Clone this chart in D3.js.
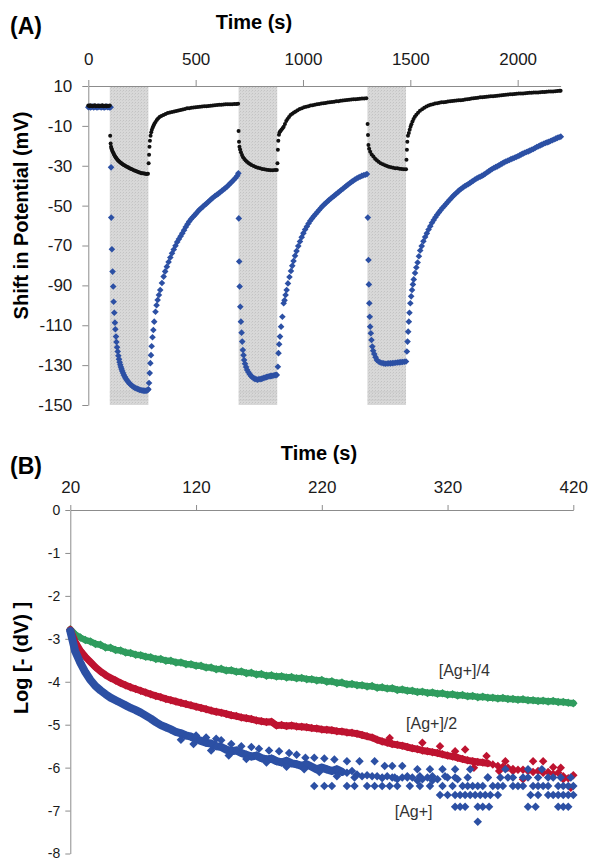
<!DOCTYPE html>
<html>
<head>
<meta charset="utf-8">
<script src="https://cdn.jsdelivr.net/npm/d3@7"></script>
<style>
  body { margin: 0; background: #fff; }
  svg { display: block; font-family: "Liberation Sans", Arial, Helvetica, sans-serif; }
</style>
</head>
<body>
<div id="chart"></div>
<script>
// ---------- panel A data: [time (s), shift in potential (mV)] ----------
const timeTicksA = [0, 500, 1000, 1500, 2000];
const potTicksA = [10, -10, -30, -50, -70, -90, -110, -130, -150];
const shadedA = [[100, 280], [700, 880], [1300, 1480]];

const blackA = [
  [0,0.2],[5,-0.1],[10,0.3],[15,0],[20,-0.2],[25,0.1],[30,0.3],[35,-0.1],[40,0],[45,0.2],[50,-0.2],[55,0.1],[60,0],[65,0.3],[70,-0.1],[75,0],[80,0.2],[85,-0.2],[90,0.1],[95,0],[100,0.2],
  [102,-15],[104,-18.8],[106,-20.5],[108,-21.3],[110,-22],[113,-22.8],[116,-23.5],[119,-24.1],[122,-24.7],[125,-25.3],[128,-25.8],[131,-26.3],[134,-26.7],[137,-27.1],[140,-27.5],[144,-27.9],[148,-28.2],[152,-28.6],[156,-28.9],[160,-29.2],[165,-29.6],[170,-29.9],[175,-30.2],[180,-30.5],[185,-30.8],[190,-31.1],[195,-31.4],[200,-31.6],[206,-31.9],[212,-32.2],[218,-32.5],[224,-32.8],[230,-33],[236,-33.3],[242,-33.5],[248,-33.7],[254,-33.8],[260,-33.9],[266,-34],[272,-34.1],[278,-34],
  [281,-28.8],[283,-24.5],[285,-20.5],[287,-17.5],[290,-15],[293,-13.2],[296,-12],[300,-10.8],[304,-9.8],[308,-8.9],[313,-8],[319,-7],[325,-6.3],[332,-5.6],[340,-5],[350,-4.5],[360,-4],[370,-3.6],[380,-3.3],[390,-3],[400,-2.8],[410,-2.5],[420,-2.3],[430,-2],[440,-1.8],[450,-1.5],[460,-1.2],[470,-1.1],[480,-0.9],[490,-0.8],[500,-0.6],[510,-0.5],[520,-0.4],[530,-0.3],[540,-0.2],[550,-0.1],[560,0],[570,0.1],[580,0.2],[590,0.4],[600,0.5],[610,0.6],[620,0.6],[630,0.7],[640,0.8],[650,0.8],[660,0.9],[670,0.9],[680,1],[690,1],[698,1.1],
  [700,-12.6],[702,-17.9],[704,-20.5],[707,-21.8],[711,-23.2],[716,-24.6],[721,-25.7],[727,-26.6],[733,-27.4],[739,-28],[746,-28.6],[753,-29.1],[760,-29.6],[770,-30.1],[780,-30.6],[790,-31],[800,-31.3],[810,-31.6],[820,-31.8],[830,-32],[840,-32.1],[850,-32.2],[860,-32.2],[870,-32.1],[878,-32.1],
  [881,-28.8],[883,-22],[885,-17.5],[888,-14.5],[891,-13.2],[895,-12.6],[900,-12],[905,-11.2],[910,-10.4],[916,-9],[922,-7.6],[928,-6.5],[935,-5.5],[942,-4.6],[950,-3.9],[958,-3.3],[966,-2.8],[975,-2.2],[985,-1.5],[995,-1.1],[1005,-0.7],[1015,-0.4],[1025,-0.1],[1035,0.2],[1045,0.4],[1055,0.6],[1065,0.8],[1075,1],[1085,1.2],[1095,1.4],[1105,1.5],[1115,1.7],[1125,1.8],[1135,2],[1145,2.1],[1155,2.3],[1165,2.4],[1175,2.6],[1185,2.7],[1195,2.9],[1205,3],[1215,3.1],[1225,3.2],[1235,3.3],[1245,3.4],[1255,3.5],[1265,3.6],[1275,3.7],[1285,3.7],[1295,3.8],
  [1301,-9],[1303,-14.6],[1305,-19.6],[1308,-21.5],[1313,-23],[1320,-24.4],[1328,-25.4],[1336,-26.5],[1344,-27.3],[1352,-28],[1362,-28.7],[1372,-29.3],[1382,-29.8],[1391,-30.1],[1400,-30.5],[1410,-30.8],[1420,-31],[1430,-31.2],[1440,-31.3],[1450,-31.5],[1460,-31.6],[1470,-31.7],[1480,-31.8],
  [1482,-27],[1484,-22],[1486,-18],[1489,-15],[1493,-13.6],[1497,-12],[1501,-10.5],[1505,-9.2],[1510,-7.8],[1515,-6.6],[1521,-5.4],[1528,-4.4],[1536,-3.4],[1545,-2.4],[1555,-1.6],[1565,-0.9],[1575,-0.3],[1585,0.2],[1595,0.6],[1605,0.9],[1615,1.2],[1625,1.4],[1635,1.6],[1645,1.8],[1655,1.9],[1665,2],[1675,2.2],[1685,2.3],[1695,2.5],[1705,2.6],[1715,2.7],[1725,2.8],[1735,2.9],[1745,3],[1755,3.2],[1765,3.4],[1775,3.5],[1785,3.7],[1795,3.8],[1805,4],[1815,4.1],[1825,4.3],[1835,4.4],[1845,4.5],[1855,4.6],[1865,4.7],[1875,4.8],[1885,4.9],[1895,5],[1905,5.1],[1915,5.2],[1925,5.3],[1935,5.5],[1945,5.6],[1955,5.7],[1965,5.8],[1975,5.9],[1985,6],[1995,6.1],[2005,6.2],[2015,6.2],[2025,6.3],[2035,6.4],[2045,6.5],[2055,6.6],[2065,6.6],[2075,6.7],[2085,6.8],[2095,6.8],[2105,6.9],[2115,7],[2125,7],[2135,7.1],[2145,7.2],[2155,7.3],[2165,7.3],[2175,7.4],[2185,7.5],[2195,7.6],[2200,7.6]
];

const blueA = [
  [0,-0.6],[5,-0.4],[10,-0.8],[15,-0.5],[20,-0.3],[25,-0.7],[30,-0.5],[35,-0.4],[40,-0.8],[45,-0.6],[50,-0.3],[55,-0.5],[60,-0.7],[65,-0.4],[70,-0.6],[75,-0.8],[80,-0.5],[85,-0.3],[90,-0.6],[95,-0.5],[100,-0.7],[104,-0.6],
  [106,-30.8],[107,-56],[110,-71.9],[113,-83.1],[116,-90.6],[118,-98.2],[121,-103.7],[124,-108.7],[126,-112],[129,-115.7],[131,-118.4],[134,-121],[137,-123.2],[140,-125.3],[143,-127],[146,-128.5],[149,-129.8],[152,-131],[155,-132],[158,-133],[162,-134],[166,-135],[170,-135.8],[174,-136.6],[178,-137.3],[183,-138],[188,-138.7],[193,-139.3],[198,-139.8],[204,-140.4],[210,-140.9],[216,-141.3],[222,-141.6],[228,-141.9],[234,-142.1],[240,-142.4],[246,-142.6],[252,-142.7],[258,-142.8],[264,-142.9],[270,-142.8],[276,-142.6],[280,-142.1],
  [283,-139],[286,-134],[289,-129],[292,-125],[295,-120.5],[299,-116],[303,-112.4],[307,-108.2],[313,-103.2],[318,-100],[323,-97.3],[329,-94.8],[335,-92.3],[343,-88.8],[351,-85.6],[358,-83],[366,-80.6],[374,-78.3],[382,-76],[390,-73.9],[398,-72],[406,-70.1],[414,-68.3],[422,-66.8],[430,-65.3],[438,-63.9],[446,-62.3],[454,-60.7],[462,-59.3],[470,-58],[478,-56.8],[486,-55.8],[494,-54.9],[502,-54],[510,-53],[518,-52],[526,-51.3],[534,-50.5],[542,-49.7],[550,-49],[558,-48.2],[566,-47.4],[574,-46.6],[582,-45.9],[590,-45.2],[598,-44.6],[606,-44],[614,-43.3],[622,-42.6],[630,-41.9],[638,-41.2],[646,-40.5],[654,-39.6],[662,-38.8],[670,-37.9],[678,-37],[686,-36.1],[694,-35],[699,-33.8],
  [701,-56.4],[703,-78],[705,-90.6],[708,-100.7],[711,-108.2],[714,-113.7],[717,-118.2],[720,-122.4],[723,-125],[726,-127.4],[730,-129.3],[735,-131],[740,-132.4],[746,-133.6],[752,-134.6],[758,-135.4],[764,-136],[770,-136.5],[776,-136.9],[782,-137.1],[788,-137.3],[794,-137.1],[800,-137],[806,-136.9],[812,-136.7],[818,-136.4],[824,-136.2],[830,-136],[836,-135.8],[842,-135.6],[848,-135.5],[854,-135.4],[860,-135.3],[866,-135.1],[872,-135],[878,-134.9],
  [883,-130.8],[886,-124],[889,-119.5],[893,-115.7],[898,-110.7],[904,-105.7],[910,-99],[914,-97.5],[919,-94.8],[924,-92.3],[930,-89],[937,-85.8],[944,-82.8],[950,-80.2],[956,-77.8],[963,-75.2],[970,-72.8],[978,-70.3],[986,-68],[994,-65.8],[1002,-63.8],[1010,-62],[1018,-60.5],[1026,-59],[1034,-57.6],[1042,-56.4],[1050,-55.3],[1058,-54.3],[1066,-53.3],[1074,-52.3],[1082,-51.3],[1090,-50.3],[1098,-49.5],[1106,-48.7],[1114,-47.9],[1122,-47.1],[1130,-46.4],[1138,-45.7],[1146,-45],[1154,-44.3],[1162,-43.6],[1170,-42.9],[1178,-42.2],[1186,-41.5],[1194,-40.8],[1202,-40.1],[1210,-39.4],[1218,-38.8],[1226,-38.1],[1234,-37.5],[1242,-36.9],[1250,-36.4],[1258,-35.9],[1266,-35.5],[1274,-35.1],[1282,-34.8],[1290,-34.5],[1298,-34.2],
  [1302,-56],[1305,-77.3],[1307,-89.5],[1309,-99],[1311,-105.7],[1313,-110.7],[1316,-114],[1319,-117.4],[1323,-120.7],[1327,-122.8],[1332,-124.4],[1338,-126],[1344,-127.4],[1352,-128.2],[1360,-128.7],[1368,-128.9],[1376,-129.1],[1384,-129.3],[1392,-129.2],[1400,-129.1],[1408,-129.1],[1416,-129],[1424,-128.9],[1432,-128.8],[1440,-128.7],[1448,-128.6],[1456,-128.5],[1464,-128.4],[1472,-128.3],[1480,-128.2],
  [1484,-123.2],[1487,-118.2],[1490,-113.2],[1493,-108.2],[1496,-103.7],[1500,-99],[1504,-95.5],[1508,-92.3],[1512,-89.5],[1516,-87],[1522,-83.8],[1528,-81],[1534,-78.5],[1540,-75.4],[1546,-72.5],[1553,-70.3],[1561,-67.9],[1569,-65.7],[1577,-63.9],[1585,-62],[1593,-60.3],[1601,-58.6],[1609,-57.2],[1617,-55.8],[1625,-54.6],[1633,-53.4],[1641,-52.3],[1649,-51.2],[1657,-50.3],[1665,-49.3],[1673,-48.3],[1681,-47.3],[1689,-46.4],[1697,-45.4],[1705,-44.6],[1713,-43.8],[1721,-43],[1729,-42.2],[1737,-41.5],[1745,-40.9],[1753,-40.3],[1761,-39.8],[1769,-39.3],[1777,-38.7],[1785,-38.1],[1793,-37.5],[1801,-36.9],[1809,-36.4],[1817,-35.9],[1825,-35.5],[1833,-35.1],[1841,-34.6],[1849,-34],[1857,-33.4],[1865,-32.8],[1873,-32.2],[1881,-31.6],[1889,-31.1],[1897,-30.7],[1905,-30.3],[1913,-29.8],[1921,-29.3],[1929,-28.8],[1937,-28.3],[1945,-27.9],[1953,-27.5],[1961,-27.1],[1969,-26.7],[1977,-26.4],[1985,-26],[1993,-25.6],[2001,-25.2],[2009,-24.8],[2017,-24.3],[2025,-23.9],[2033,-23.5],[2041,-23.1],[2049,-22.8],[2057,-22.4],[2065,-22],[2073,-21.6],[2081,-21.1],[2089,-20.6],[2097,-20.2],[2105,-19.8],[2113,-19.4],[2121,-19],[2129,-18.6],[2137,-18.3],[2145,-18],[2153,-17.6],[2161,-17.2],[2169,-16.8],[2177,-16.4],[2185,-16],[2193,-15.7],[2201,-15.4]
];

// ---------- panel B data: log[-(dV)] read every 4 s from t = 20 s ----------
const timeTicksB = [20, 120, 220, 320, 420];
const logTicksB = [0, -1, -2, -3, -4, -5, -6, -7, -8];
const timeB = d3.range(20, 421, 4);

const greenB = [
  -2.78,-2.9,-2.97,-3.03,-3.06,-3.12,-3.14,-3.2,-3.21,-3.26,-3.27,-3.32,-3.33,-3.37,-3.38,-3.42,-3.43,-3.47,-3.47,-3.51,
  -3.51,-3.55,-3.55,-3.59,-3.59,-3.63,-3.63,-3.67,-3.67,-3.71,-3.7,-3.74,-3.73,-3.77,-3.76,-3.8,-3.79,-3.83,-3.82,-3.86,
  -3.85,-3.88,-3.87,-3.9,-3.89,-3.92,-3.91,-3.94,-3.94,-3.97,-3.96,-4,-3.99,-4.03,-4.02,-4.06,-4.05,-4.08,-4.08,-4.11,
  -4.1,-4.14,-4.13,-4.16,-4.15,-4.19,-4.18,-4.21,-4.21,-4.24,-4.23,-4.26,-4.25,-4.28,-4.27,-4.3,-4.29,-4.32,-4.31,-4.34,
  -4.33,-4.36,-4.35,-4.37,-4.37,-4.39,-4.38,-4.4,-4.4,-4.42,-4.41,-4.43,-4.43,-4.45,-4.44,-4.46,-4.45,-4.47,-4.47,-4.49,-4.5
];
const redB = [
  -2.79,-3.08,-3.28,-3.42,-3.54,-3.66,-3.76,-3.84,-3.91,-3.97,-4.03,-4.08,-4.13,-4.17,-4.21,-4.25,-4.29,-4.33,-4.36,-4.4,
  -4.43,-4.46,-4.49,-4.52,-4.55,-4.58,-4.61,-4.64,-4.67,-4.7,-4.72,-4.75,-4.78,-4.8,-4.83,-4.85,-4.87,-4.9,-4.92,-4.94,
  -4.93,-5.02,-5.01,-5.03,-5.02,-5.04,-5.05,-5.06,-5.08,-5.09,-5.11,-5.12,-5.13,-5.15,-5.16,-5.18,-5.19,-5.21,-5.24,-5.27,
  -5.3,-5.35,-5.39,-5.42,-5.45,-5.47,-5.49,-5.52,-5.55,-5.57,-5.6,-5.62,-5.64,-5.66,-5.69,-5.72,-5.74,-5.77,-5.8,-5.83,
  -5.85,-5.87,-5.88,-5.9,-5.93,-5.96,-5.98,-6,-6.03,-6.05,-6.05,-6.08,-6.1,-6.08,-6.12,-6.1,-6.15,-6.12,-6.2,-6.25,-6.18
];
const blueB = [
  -2.82,-3.3,-3.56,-3.78,-3.96,-4.1,-4.2,-4.29,-4.37,-4.43,-4.49,-4.55,-4.61,-4.66,-4.72,-4.79,-4.86,-4.94,-5.01,-5.06,
  -5.11,-5.17,-5.2,-5.25,-5.28,-5.33,-5.38,-5.42,-5.44,-5.5,-5.52,-5.58,-5.62,-5.6,-5.66,-5.7,-5.74,-5.72,-5.78,-5.81,
  -5.79,-5.85,-5.88,-5.84,-5.9,-5.92,-5.96,-5.92,-5.98,-6.04,-6,-6.04,-6.08,-6.04,-6.1,-6.12,-6.08,-6.16,-6.2,-6.18,
  -6.2,-6.2,-6.24,-6.2,-6.23,-6.27,-6.23,-6.2,-6.23,-6.3,-6.27,-6.23,-6.3,-6.27,-6.43,-6.23,-6.43,-6.27,-6.43,-6.43,
  -6.43,-6.43,-6.43,-6.23,-6.43,-6.43,-6.43,-6.23,-6.43,-6.43,-6.43,-6.23,-6.43,-6.43,-6.43,-6.43,-6.23,-6.43,-6.43,-6.43,-6.43
];
// scattered single points off the main bands: [time, log value]
const redScatterB = [
  [274,-5.31],[300,-5.42],[314,-5.5],[326,-5.62],[334,-5.58],[341,-6],[351,-5.73],[361,-6.08],[366,-5.85],[372,-6.08],
  [380,-6.27],[388,-5.85],[396,-5.85],[404,-5.99],[410,-6],[412,-6.27],[418,-6.47]
];
const blueScatterB = [
  [120,-5.25],[128,-5.3],[136,-5.33],[140,-5.36],[148,-5.45],[156,-5.5],[164,-5.52],[170,-5.56],[178,-5.6],[186,-5.62],
  [194,-5.66],[200,-5.7],[207,-5.77],[214,-5.77],[222,-5.79],[230,-5.81],[240,-5.85],[250,-5.85],[262,-5.85],[270,-5.96],
  [276,-5.96],[284,-5.96],[296,-6.04],[306,-6.04],[316,-6.04],[326,-6.04],[338,-6.04],[366,-6.04],[384,-6.04],[395,-6.04],
  [108,-5.35],[118,-5.45],[132,-5.6],[146,-5.72],[160,-5.8],[176,-5.88],[192,-5.98],[206,-6.04],[218,-6.1],[232,-6.2],[246,-6.23],
  [268,-6.23],[278,-6.23],[288,-6.23],[298,-6.2],[308,-6.2],[318,-6.2],[326,-6.23],[336,-6.23],[352,-6.23],[362,-6.23],
  [372,-6.23],[380,-6.23],[392,-6.23],[400,-6.23],[410,-6.23],[418,-6.23],
  [214,-6.43],[222,-6.43],[228,-6.43],[240,-6.43],[246,-6.43],[256,-6.43],[262,-6.43],[268,-6.43],[274,-6.43],[280,-6.43],
  [290,-6.43],[298,-6.43],[306,-6.43],
  [314,-6.64],[320,-6.64],[326,-6.64],[330,-6.64],[334,-6.64],[338,-6.64],[342,-6.64],[346,-6.64],[350,-6.64],[354,-6.64],
  [360,-6.64],[386,-6.64],[392,-6.64],[400,-6.64],[404,-6.64],[408,-6.64],[412,-6.64],[416,-6.64],[420,-6.64],
  [326,-6.91],[330,-6.91],[334,-6.91],[344,-6.91],[348,-6.91],[353,-6.91],[384,-6.91],[390,-6.91],[408,-6.91],[412,-6.91],[416,-6.91],
  [344,-7.26]
];
const seriesLabelsB = [
  { text: "[Ag+]/4", t: 313, v: -3.87 },
  { text: "[Ag+]/2", t: 287, v: -5.1 },
  { text: "[Ag+]", t: 278, v: -7.15 }
];

// ---------- drawing ----------
const width = 590;
const height = 859;
const axisColor = "#8c8c8c";
const colors = { black: "#111111", blue: "#2c50a4", red: "#be1330", green: "#2f9c5e" };

const svg = d3.select("#chart")
  .append("svg")
  .attr("width", width)
  .attr("height", height);

const defs = svg.append("defs");
const pattern = defs.append("pattern")
  .attr("id", "shade")
  .attr("width", 3)
  .attr("height", 3)
  .attr("patternUnits", "userSpaceOnUse");
pattern.append("rect").attr("width", 3).attr("height", 3).attr("fill", "#d8d8d8");
pattern.append("rect").attr("width", 1).attr("height", 1).attr("fill", "#c3c3c3");
pattern.append("rect").attr("x", 2).attr("y", 1).attr("width", 1).attr("height", 1).attr("fill", "#cdcdcd");

// a square turned 45 degrees, like the spreadsheet markers
const diamond = (w) => `M0,${-w / 2}L${w / 2},0L0,${w / 2}L${-w / 2},0Z`;
const plain = (d) => String(d); // hyphen minus, no thousands separator

function styleAxis(g, fontSize) {
  g.select(".domain").attr("stroke", axisColor);
  g.selectAll(".tick line").attr("stroke", axisColor);
  g.selectAll(".tick text")
    .attr("fill", "#1a1a1a")
    .style("font-size", fontSize + "px")
    .style("font-family", '"Liberation Sans", Arial, sans-serif');
}

// ===== panel A =====
const xA = d3.scaleLinear().domain([0, 2200]).range([88.3, 560.6]);
const yA = d3.scaleLinear().domain([-150, 10]).range([405, 86]);

svg.append("g")
  .selectAll("rect")
  .data(shadedA)
  .enter()
  .append("rect")
  .attr("x", (d) => xA(d[0]))
  .attr("width", (d) => xA(d[1]) - xA(d[0]))
  .attr("y", yA(10))
  .attr("height", yA(-150) - yA(10))
  .attr("fill", "url(#shade)");

// faint lines near the bottom of the shaded bands
svg.append("g")
  .selectAll("line")
  .data(d3.cross(shadedA, [-143.5, -145.5, -147.5]))
  .enter()
  .append("line")
  .attr("x1", (d) => xA(d[0][0]))
  .attr("x2", (d) => xA(d[0][1]))
  .attr("y1", (d) => yA(d[1]))
  .attr("y2", (d) => yA(d[1]))
  .attr("stroke", "#c2c2c2")
  .attr("stroke-width", 0.6);

const axisTopA = svg.append("g")
  .attr("transform", `translate(0,${yA(10)})`)
  .call(d3.axisTop(xA).tickValues(timeTicksA).tickFormat(plain).tickSize(6).tickPadding(15).tickSizeOuter(0));
styleAxis(axisTopA, 17);

const axisLeftA = svg.append("g")
  .attr("transform", `translate(${xA(0)},0)`)
  .call(d3.axisLeft(yA).tickValues(potTicksA).tickFormat(plain).tickSize(6).tickPadding(10).tickSizeOuter(0));
styleAxis(axisLeftA, 17);

svg.append("g")
  .selectAll("path")
  .data(blueA)
  .enter()
  .append("path")
  .attr("d", diamond(6.6))
  .attr("transform", (d) => `translate(${xA(d[0])},${yA(d[1])})`)
  .attr("fill", colors.blue);

svg.append("g")
  .selectAll("circle")
  .data(blackA)
  .enter()
  .append("circle")
  .attr("cx", (d) => xA(d[0]))
  .attr("cy", (d) => yA(d[1]))
  .attr("r", 2)
  .attr("fill", colors.black);

svg.append("text")
  .attr("x", 10)
  .attr("y", 34)
  .style("font-size", "23px")
  .style("font-weight", "bold")
  .text("(A)");

svg.append("text")
  .attr("x", 254)
  .attr("y", 29)
  .attr("text-anchor", "middle")
  .style("font-size", "20px")
  .style("font-weight", "bold")
  .text("Time (s)");

svg.append("text")
  .attr("transform", `translate(28,${(yA(10) + yA(-150)) / 2 - 30}) rotate(-90)`)
  .attr("text-anchor", "middle")
  .style("font-size", "20px")
  .style("font-weight", "bold")
  .text("Shift in Potential (mV)");

// ===== panel B =====
const xB = d3.scaleLinear().domain([20, 420]).range([70.3, 573.3]);
const yB = d3.scaleLinear().domain([-8, 0]).range([853.5, 510]);

const axisTopB = svg.append("g")
  .attr("transform", `translate(0,${yB(0)})`)
  .call(d3.axisTop(xB).tickValues(timeTicksB).tickFormat(plain).tickSize(5).tickPadding(12).tickSizeOuter(0));
styleAxis(axisTopB, 17);

const axisLeftB = svg.append("g")
  .attr("transform", `translate(${xB(20)},0)`)
  .call(d3.axisLeft(yB).tickValues(logTicksB).tickFormat(plain).tickSize(5).tickPadding(5).tickSizeOuter(0));
styleAxis(axisLeftB, 14);

// the dense sampling makes each band read as a solid ribbon up to lineUntil
const bandsB = [
  { values: greenB, color: colors.green, scatter: [], lineUntil: 420, thick: 6.5 },
  { values: redB, color: colors.red, scatter: redScatterB, lineUntil: 352, thick: 7 },
  { values: blueB, color: colors.blue, scatter: blueScatterB, lineUntil: 236, thick: 8 }
];

const ribbon = d3.line()
  .x((d) => xB(d[0]))
  .y((d) => yB(d[1]));

bandsB.forEach((s) => {
  const pts = timeB.map((t, i) => [t, s.values[i]]);
  const g = svg.append("g");
  g.append("path")
    .attr("d", ribbon(pts.filter((d) => d[0] <= s.lineUntil)))
    .attr("fill", "none")
    .attr("stroke", s.color)
    .attr("stroke-width", s.thick)
    .attr("stroke-linejoin", "round")
    .attr("stroke-linecap", "round");
  g.selectAll("path.pt")
    .data(pts.concat(s.scatter))
    .enter()
    .append("path")
    .attr("class", "pt")
    .attr("d", diamond(8.5))
    .attr("transform", (d) => `translate(${xB(d[0])},${yB(d[1])})`)
    .attr("fill", s.color);
});

svg.append("g")
  .selectAll("text")
  .data(seriesLabelsB)
  .enter()
  .append("text")
  .attr("x", (d) => xB(d.t))
  .attr("y", (d) => yB(d.v))
  .attr("fill", "#333")
  .style("font-size", "16px")
  .text((d) => d.text);

svg.append("text")
  .attr("x", 10)
  .attr("y", 474)
  .style("font-size", "23px")
  .style("font-weight", "bold")
  .text("(B)");

svg.append("text")
  .attr("x", 319)
  .attr("y", 460)
  .attr("text-anchor", "middle")
  .style("font-size", "20px")
  .style("font-weight", "bold")
  .text("Time (s)");

svg.append("text")
  .attr("transform", "translate(28,658) rotate(-90)")
  .attr("text-anchor", "middle")
  .style("font-size", "20px")
  .style("font-weight", "bold")
  .text("Log [- (dV) ]");
</script>
</body>
</html>
